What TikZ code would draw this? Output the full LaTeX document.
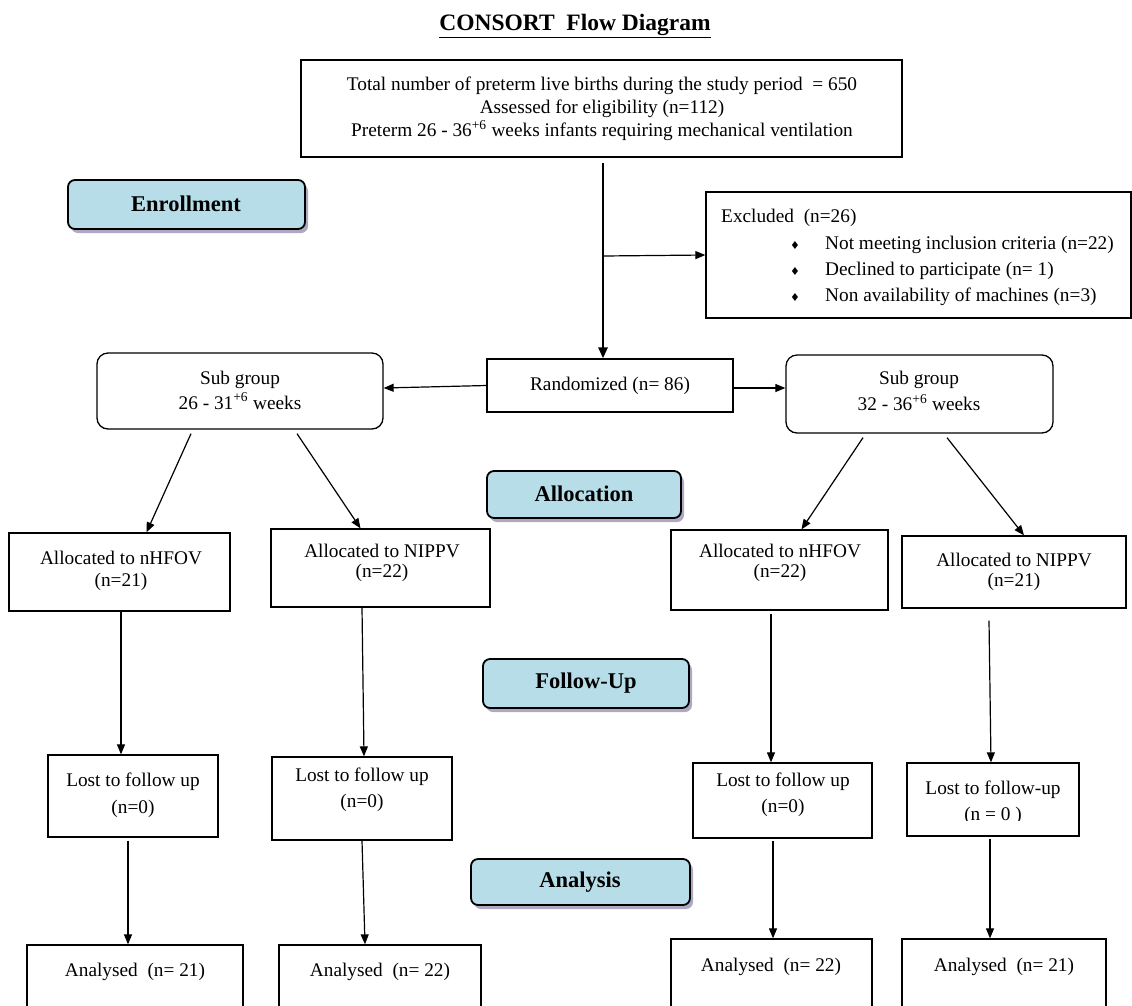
\documentclass[tikz,border=0pt]{standalone}
\usepackage{fontspec}
\setmainfont{Liberation Serif}
\newfontfamily\dejavu{DejaVu Sans}
\usetikzlibrary{arrows.meta,fit,shadows}
\definecolor{phasefill}{RGB}{183,221,232}
\definecolor{shadowc}{RGB}{120,110,150}
\tikzset{
  box/.style={draw, line width=1.3pt, inner sep=0pt},
  rbox/.style={box, rounded corners=11pt},
  phase/.style={draw, line width=1.8pt, rounded corners=7pt, fill=phasefill, inner sep=0pt,
    font=\fontsize{22.5}{26}\selectfont\bfseries,
    drop shadow={shadow xshift=3pt, shadow yshift=-4pt, fill=shadowc, opacity=0.6}},
  txt/.style={align=center, inner sep=0pt, font=\fontsize{19.3}{22}\selectfont},
  bul/.style={inner sep=0pt, font=\dejavu\fontsize{11}{11}\selectfont},
  arr/.style={-{Triangle[length=10pt,width=8pt]}, line width=1.2pt},
  mainarr/.style={-{Triangle[length=11pt,width=9pt]}, line width=2.6pt},
}
\begin{document}
\begin{tikzpicture}[x=1pt,y=-1pt]
\useasboundingbox (0,0) rectangle (1132,1005);
\clip (0,0) rectangle (1132,1005);

% title
\node[inner sep=0pt, font=\fontsize{23.5}{28}\selectfont\bfseries] (title) at (575,26) {\underline{CONSORT\ \ Flow Diagram}};

% top box
\node[box, fit={(301,60) (902,157)}] (top) {};
\node[txt, font=\fontsize{19.3}{23}\selectfont] (topt) at (602,109) {Total number of preterm live births during the study period\ \ = 650\\Assessed for eligibility (n=112)\\Preterm 26 - 36\textsuperscript{+6} weeks infants requiring mechanical ventilation};

% phase labels
\node[phase, fit={(68,180) (305,229)}] (enr) {};
\node[inner sep=0pt, font=\fontsize{22.5}{26}\selectfont\bfseries] (enrt) at (186,204) {Enrollment};
\node[phase, fit={(487,471) (681,518)}] (alc) {};
\node[inner sep=0pt, font=\fontsize{22.5}{26}\selectfont\bfseries] (alct) at (584,494) {Allocation};
\node[phase, fit={(483,659) (689,708)}] (fol) {};
\node[inner sep=0pt, font=\fontsize{22.5}{26}\selectfont\bfseries] (folt) at (586,683.5) {Follow-Up};
\node[phase, fit={(471,859) (690,905)}] (ana) {};
\node[inner sep=0pt, font=\fontsize{22.5}{26}\selectfont\bfseries] (anat) at (580,882) {Analysis};

% excluded
\node[box, fit={(706,192) (1131,318)}] (excl) {};
\node[txt, anchor=west] (ex0) at (721,218) {Excluded\ \ (n=26)};
\node[bul] (b1) at (795,245) {♦};
\node[txt, anchor=west] (ex1) at (825,245) {Not meeting inclusion criteria (n=22)};
\node[bul] (b2) at (795,271) {♦};
\node[txt, anchor=west] (ex2) at (825,271) {Declined to participate (n= 1)};
\node[bul] (b3) at (795,297) {♦};
\node[txt, anchor=west] (ex3) at (825,297) {Non availability of machines (n=3)};

% randomized and subgroups
\node[box, fit={(487,359) (733,412)}] (rand) {};
\node[txt] (randt) at (610,386) {Randomized (n= 86)};
\node[rbox, fit={(97,353) (383,429)}] (sgL) {};
\node[txt, font=\fontsize{19.3}{25}\selectfont] (sgLt) at (240,390) {Sub group\\26 - 31\textsuperscript{+6} weeks};
\node[rbox, fit={(786,355) (1053,433)}] (sgR) {};
\node[txt, font=\fontsize{19.3}{26}\selectfont] (sgRt) at (919,391) {Sub group\\32 - 36\textsuperscript{+6} weeks};

% allocated
\node[box, fit={(9,533) (230,611)}] (LA) {};
\node[txt] (LAt) at (121,571) {Allocated to nHFOV\\(n=21)};
\node[box, fit={(271,529) (490,607)}] (LB) {};
\node[txt, font=\fontsize{19.3}{20}\selectfont] (LBt) at (382,563) {Allocated to NIPPV\\(n=22)};
\node[box, fit={(671,530) (888,610)}] (RA) {};
\node[txt, font=\fontsize{19.3}{20}\selectfont] (RAt) at (780,563) {Allocated to nHFOV\\(n=22)};
\node[box, fit={(902,536) (1126,608)}] (RB) {};
\node[txt, font=\fontsize{19.3}{20}\selectfont] (RBt) at (1014,572) {Allocated to NIPPV\\(n=21)};

% lost
\node[box, fit={(48,755) (218,837)}] (L1) {};
\node[txt, font=\fontsize{19.3}{27}\selectfont] (L1t) at (133,795.5) {Lost to follow up\\(n=0)};
\node[box, fit={(272,757) (452,840)}] (L2) {};
\node[txt, font=\fontsize{19.3}{26}\selectfont] (L2t) at (362,790) {Lost to follow up\\(n=0)};
\node[box, fit={(693,763) (872,838)}] (R1) {};
\node[txt, font=\fontsize{19.3}{26}\selectfont] (R1t) at (783,795) {Lost to follow up\\(n=0)};
\node[box, fit={(907,763) (1079,836)}] (R2) {};
\node[txt] (R2t) at (993,790) {Lost to follow-up};
\begin{scope}
\clip (910,800) rectangle (1075,820);
\node[txt] (R2n) at (993,816) {(n = 0 )};
\end{scope}

% analysed
\node[box, fit={(27,945) (243,1015)}] (A1) {};
\node[txt] (A1t) at (135,972) {Analysed\ \ (n= 21)};
\node[box, fit={(279,945) (481,1015)}] (A2) {};
\node[txt] (A2t) at (380,972) {Analysed\ \ (n= 22)};
\node[box, fit={(671,939) (872,1015)}] (A3) {};
\node[txt] (A3t) at (771,967) {Analysed\ \ (n= 22)};
\node[box, fit={(902,939) (1106,1015)}] (A4) {};
\node[txt] (A4t) at (1004,967) {Analysed\ \ (n= 21)};

% connectors
\draw[mainarr] ([xshift=1.5pt,yshift=-5pt]top.south) -- ([xshift=-7pt]rand.north);
\coordinate (br) at (603,256);
\draw[arr] (br) -- (excl.west);
\draw[arr] (rand.west) -- ([yshift=3pt]sgL.east);
\coordinate (rr) at ([yshift=-2.5pt]rand.east);
\draw[arr] (rr) -- (rr -| sgR.west);

\draw[arr] ([xshift=-49pt,yshift=-4pt]sgL.south) -- ([xshift=27pt]LA.north);
\draw[arr] ([xshift=57pt,yshift=-4pt]sgL.south) -- ([xshift=-20pt]LB.north);
\draw[arr] ([xshift=-56.5pt,yshift=-4pt]sgR.south) -- ([xshift=22pt]RA.north);
\draw[arr] ([xshift=27.5pt,yshift=-4pt]sgR.south) -- ([xshift=10pt]RB.north);

\draw[arr] ([xshift=1.5pt]LA.south) -- ([xshift=1.5pt]LA.south |- L1.north);
\draw[arr] ([xshift=-18.5pt]LB.south) -- ([xshift=2pt]L2.north);
\draw[arr] ([xshift=-8.5pt,yshift=-3pt]RA.south) -- ([xshift=-8.5pt]RA.south |- R1.north);
\draw[arr] ([xshift=-25pt,yshift=-12pt]RB.south) -- ([xshift=-2pt]R2.north);

\draw[arr] ([xshift=-5pt,yshift=-3pt]L1.south) -- ([xshift=-5pt]L1.south |- A1.north);
\draw[arr] (L2.south) -- ([xshift=-15pt]A2.north);
\draw[arr] ([xshift=-9.5pt,yshift=-2pt]R1.south) -- ([xshift=-9.5pt]R1.south |- A3.north);
\draw[arr] ([xshift=-3pt,yshift=-2pt]R2.south) -- ([xshift=-3pt]R2.south |- A4.north);
\end{tikzpicture}
\end{document}
